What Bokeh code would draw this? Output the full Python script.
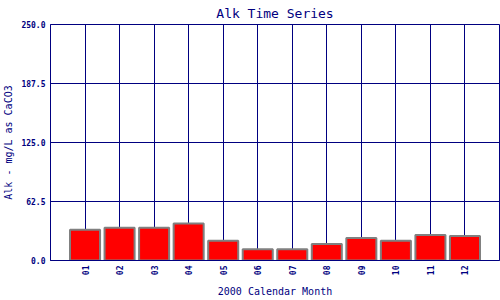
import math
from bokeh.plotting import figure
from bokeh.models import Range1d, FixedTicker, PrintfTickFormatter, ColumnDataSource
from bokeh.embed import file_html
from bokeh.resources import INLINE

months = ["01", "02", "03", "04", "05", "06", "07", "08", "09", "10", "11", "12"]
alk = [32.7, 34.8, 34.8, 39.1, 21.0, 12.0, 12.0, 17.4, 23.8, 21.0, 27.0, 25.9]
y_ticks = [0.0, 62.5, 125.0, 187.5, 250.0]

NAVY = "#000080"
MONO = "DejaVu Sans Mono"

xpos = list(range(1, len(months) + 1))
src = ColumnDataSource(dict(x=xpos, top=alk))

p = figure(width=500, height=300, output_backend="svg", toolbar_location=None,
           x_range=Range1d(0, len(months) + 1), y_range=Range1d(0, 250),
           min_border_left=0, min_border_right=1, min_border_top=0, min_border_bottom=0,
           title="Alk Time Series")

p.vbar(x="x", top="top", bottom=0, width=0.87, source=src,
       fill_color="#ff0000", line_color="#808080", line_width=2)

p.title.align = "center"
p.title.text_font = MONO
p.title.text_font_size = "13px"
p.title.text_font_style = "normal"
p.title.text_color = NAVY
p.title.standoff = 7
p.title.offset = -5

p.outline_line_color = NAVY
p.outline_line_width = 1
p.outline_line_alpha = 1

p.xaxis.ticker = FixedTicker(ticks=xpos)
p.xaxis.major_label_overrides = {i: m for i, m in zip(xpos, months)}
p.xaxis.major_label_orientation = math.pi / 2
p.yaxis.ticker = FixedTicker(ticks=y_ticks)
p.yaxis.formatter = PrintfTickFormatter(format="%.1f")

p.xaxis.axis_label = "2000 Calendar Month"
p.yaxis.axis_label = "Alk - mg/L as CaCO3"

for ax in (p.xaxis, p.yaxis):
    ax.axis_line_color = NAVY
    ax.major_tick_line_color = None
    ax.minor_tick_line_color = None
    ax.major_tick_out = 0
    ax.major_tick_in = 0
    ax.major_label_text_font = MONO
    ax.major_label_text_font_size = "8px"
    ax.major_label_text_font_style = "bold"
    ax.major_label_text_color = NAVY
    ax.axis_label_text_font = MONO
    ax.axis_label_text_font_size = "10px"
    ax.axis_label_text_font_style = "normal"
    ax.axis_label_text_color = NAVY

p.xaxis.major_label_standoff = 5
p.xaxis.axis_label_standoff = 8
p.yaxis.major_label_standoff = 5
p.yaxis.axis_label_standoff = 4

p.xgrid.grid_line_color = NAVY
p.ygrid.grid_line_color = NAVY
p.xgrid.grid_line_alpha = 1
p.ygrid.grid_line_alpha = 1
p.xgrid.grid_line_width = 1
p.ygrid.grid_line_width = 1

open("out.html", "w").write(file_html(p, INLINE))
